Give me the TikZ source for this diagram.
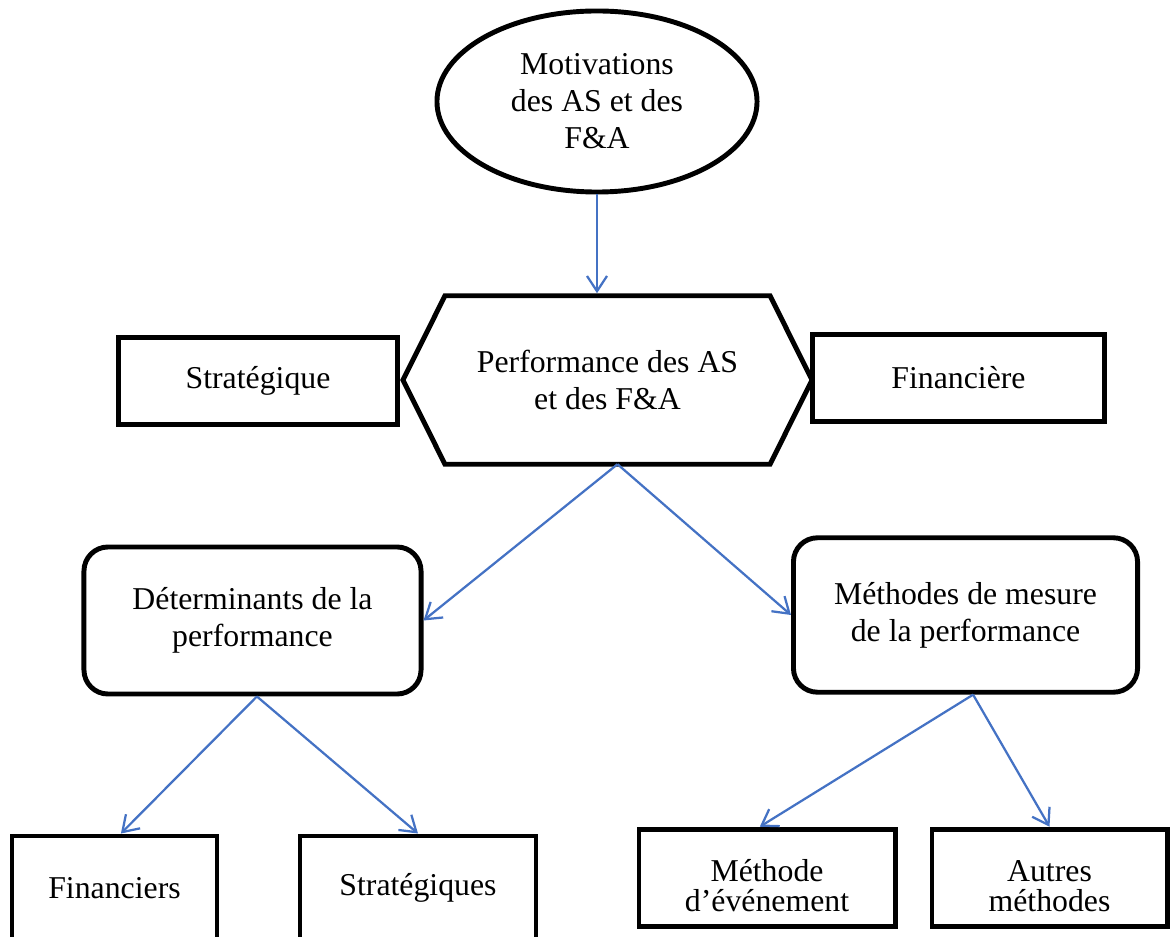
\documentclass[tikz,border=0pt]{standalone}
\usepackage{fontspec}
\setmainfont{Liberation Serif}
\usetikzlibrary{shapes.geometric,arrows.meta}
\definecolor{linkblue}{RGB}{68,114,196}
\newcommand{\lowstrut}{\rule{0pt}{0.94cm}}

\begin{document}
\begin{tikzpicture}[x=0.025cm, y=-0.025cm, align=center]
\tikzstyle{outline} = [line width=3.5pt, draw=black]
\tikzstyle{base} = [outline, inner sep=0pt, font=\fontsize{22.6pt}{26.3pt}\selectfont]
\tikzstyle{box} = [base, rectangle]
\tikzstyle{roundbox} = [base, rectangle, rounded corners=0.6cm]
\tikzstyle{smallbox} = [box, font=\fontsize{22.6pt}{21.3pt}\selectfont]
\tikzstyle{oval} = [base, ellipse]
\tikzstyle{hexa} = [base, draw=none, outer sep=0pt]
\tikzstyle{arrow} = [line width=1.6pt, draw=linkblue, -{Straight Barb[length=0.38cm, width=0.5cm]}]

\useasboundingbox (0,0) rectangle (1171,937);
\clip (0,0) rectangle (1171,937);
    \path
        (597, 101.5) node[oval, minimum width=8cm, minimum height=4.525cm] (motiv) {Motivations\\des AS et des\\F\&A}
        (607.5, 380) node[hexa, minimum width=8.125cm, minimum height=4.21cm] (perf) {Performance des AS\\et des F\&A}
        (258, 381) node[box, minimum width=6.96cm, minimum height=2.16cm] (strat) {Stratégique}
        (958.5, 378) node[box, minimum width=7.3cm, minimum height=2.19cm] (finan) {Financière}
        (252.5, 620.5) node[roundbox, minimum width=8.425cm, minimum height=3.675cm] (determ) {Déterminants de la\\performance}
        (965.5, 615) node[roundbox, minimum width=8.6cm, minimum height=3.86cm] (meth) {Méthodes de mesure\\de la performance}
        (114.5, 888) node[box, minimum width=5.125cm, minimum height=2.6cm] (fins) {Financiers}
        (418, 888) node[box, minimum width=5.9cm, minimum height=2.6cm] (strats) {Stratégiques}
        (767, 878) node[smallbox, minimum width=6.4cm, minimum height=2.44cm] (event) {\lowstrut Méthode\\d’événement}
        (1049.5, 878) node[smallbox, minimum width=5.875cm, minimum height=2.44cm] (autres) {\lowstrut Autres\\méthodes};

    % hexagon around the central node
    \draw[outline] (perf.north west) -- (perf.north east) -- ([xshift=1.05cm]perf.east)
        -- (perf.south east) -- (perf.south west) -- ([xshift=-1.05cm]perf.west) -- cycle;

    \draw [arrow, shorten >=1.8pt] (motiv.south) -- (motiv.south |- perf.north);
    \draw [arrow] ([xshift=0.25cm]perf.south) -- (determ.east);
    \draw [arrow] ([xshift=0.25cm]perf.south) -- (meth.west);
    \draw [arrow] ([xshift=0.11cm]determ.south) -- ([xshift=0.16cm]fins.north);
    \draw [arrow] ([xshift=0.11cm]determ.south) -- (strats.north);
    \draw [arrow] ([xshift=0.19cm]meth.south) -- ([xshift=-0.18cm]event.north);
    \draw [arrow] ([xshift=0.19cm]meth.south) -- (autres.north);
\end{tikzpicture}
\end{document}
